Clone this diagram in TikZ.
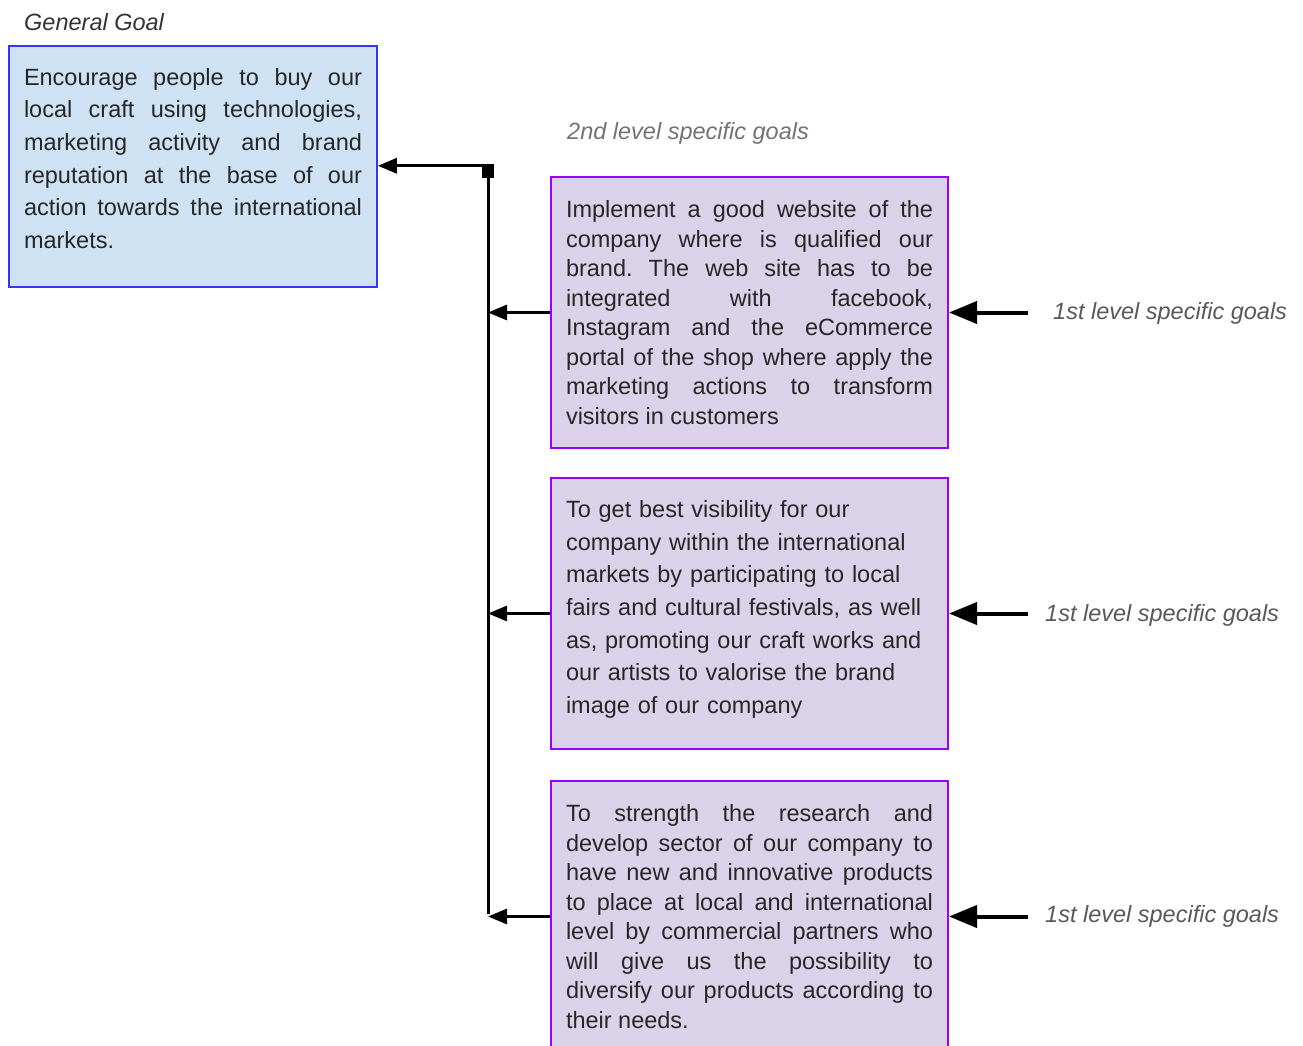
\documentclass[tikz,border=0pt]{standalone}
\usepackage{fontspec}
\setmainfont{Liberation Sans}
\frenchspacing
\usepackage{xcolor}
\definecolor{goalBack}  {HTML}{CFE2F3}
\definecolor{goalEdge}  {HTML}{3535F5}
\definecolor{specBack}  {HTML}{D9D2E9}
\definecolor{specEdge}  {HTML}{9900FF}
\definecolor{inkText}   {HTML}{262626}
\usetikzlibrary{arrows.meta, positioning, calc}
\newcommand{\bottompad}[1]{\par\vskip#1\hrule height0pt width0pt}
\tikzset{
    goalbox/.style={draw=goalEdge, fill=goalBack, line width=1.6pt,
                    text width=338pt, inner xsep=15pt, inner ysep=0pt,
                    minimum height=241pt, align=justify, text=inkText,
                    font=\fontsize{23.5}{32.7}\selectfont},
    specbox/.style={draw=specEdge, fill=specBack, line width=2pt,
                    text width=367pt, inner xsep=15pt, inner ysep=0pt,
                    minimum height=271pt, align=justify, text=inkText,
                    font=\fontsize{23.5}{29.5}\selectfont},
    tag/.style={font=\itshape\fontsize{23.5}{28}\selectfont, inner sep=0pt,
                anchor=west},
    hubnode/.style={fill=black, minimum size=12pt, inner sep=0pt},
    link/.style={line width=3pt, -{Triangle[length=19pt, width=15pt]}},
    bigarrow/.style={line width=4pt, -{Triangle[length=28pt, width=22pt]}},
    trunk/.style={line width=3pt},
}

\begin{document}
\begin{tikzpicture}[x=1pt, y=-1pt]
\clip (0,0) rectangle (1303,1046);
% General goal on the left.
\node[tag, text=black!80] (gtitle) at (24,22) {General Goal};
\node[goalbox] (general) at (193,166.5) {Encourage people to buy our\linebreak
local craft using technologies,\linebreak
marketing activity and brand\linebreak
reputation at the base of our\linebreak
action towards the international\linebreak
markets.\bottompad{16pt}};
% 2nd level specific goals.
\node[tag, text=black!55] (stitle) at (567,133) {2nd level specific goals};
\node[specbox] (s1) at (749.5,312.5) {Implement a good website of the\linebreak
company where is qualified our\linebreak
brand. The web site has to be\linebreak
integrated with facebook,\linebreak
Instagram and the eCommerce\linebreak
portal of the shop where apply the\linebreak
marketing actions to transform\linebreak
visitors in customers};
\node[specbox, align=left, font=\fontsize{23.5}{32.7}\selectfont] (s2) at (749.5,613.5)
{To get best visibility for our\\
company within the international\\
markets by participating to local\\
fairs and cultural festivals, as well\\
as, promoting our craft works and\\
our artists to valorise the brand\\
image of our company\bottompad{8pt}};
\node[specbox] (s3) at (749.5,916.5) {To strength the research and\linebreak
develop sector of our company to\linebreak
have new and innovative products\linebreak
to place at local and international\linebreak
level by commercial partners who\linebreak
will give us the possibility to\linebreak
diversify our products according to\linebreak
their needs.};
% 1st level labels on the right.
\node[tag, text=black!65] (lab1) at (1053,313) {1st level specific goals};
\node[tag, text=black!65] (lab2) at (1045,615) {1st level specific goals};
\node[tag, text=black!65] (lab3) at (1045,916) {1st level specific goals};
\coordinate (e1) at (1028,312.5);
\coordinate (e2) at (1028,613.5);
\coordinate (e3) at (1028,916.5);
% Trunk and connectors.
\node[hubnode] (hub) at (488,172) {};
\draw[trunk] (hub.center) -- ([yshift=3pt]hub |- s3.west);
\draw[link] (hub.north east) -- (general.east |- hub.north east);
\draw[link] (s1.west) -- (hub |- s1.west);
\draw[link] (s2.west) -- (hub |- s2.west);
\draw[link] (s3.west) -- (hub |- s3.west);
\draw[bigarrow] (e1) -- (s1.east);
\draw[bigarrow] (e2) -- (s2.east);
\draw[bigarrow] (e3) -- (s3.east);
\end{tikzpicture}
\end{document}
